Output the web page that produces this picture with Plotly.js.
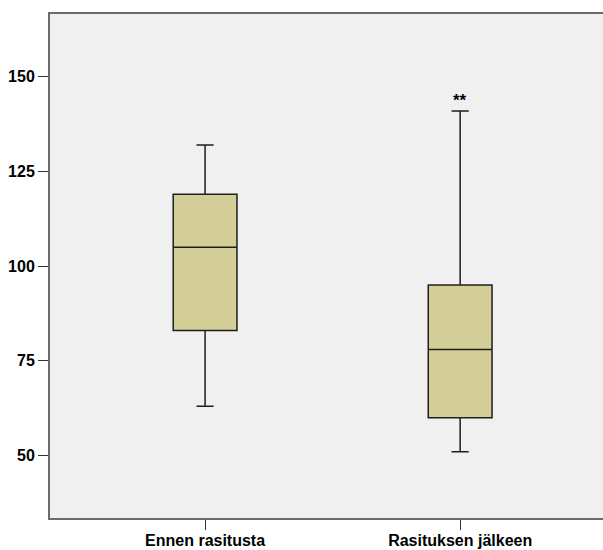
<!DOCTYPE html>
<html>
<head>
<meta charset="utf-8">
<script src="https://cdn.plot.ly/plotly-3.0.1.min.js"></script>
<style>html,body{margin:0;padding:0;background:#fff;}#chart{width:603px;height:550px;}</style>
</head>
<body>
<div id="chart"></div>
<script>
const categories = ["Ennen rasitusta", "Rasituksen jälkeen"];
const lowerWhisker = [63, 51];
const q1 = [83, 60];
const median = [105, 78];
const q3 = [119, 95];
const upperWhisker = [132, 141];
const markerText = ["", "**"];
const yTicks = [50, 75, 100, 125, 150];

const trace = {
  type: "box",
  x: categories,
  q1: q1,
  median: median,
  q3: q3,
  lowerfence: lowerWhisker,
  upperfence: upperWhisker,
  width: 0.25,
  whiskerwidth: 0.27,
  fillcolor: "#d3ce98",
  line: {color: "#1e1e1e", width: 1.5},
  boxpoints: false,
  hoverinfo: "skip",
  showlegend: false
};

const annotations = categories.map((c, i) => ({
  x: c, y: upperWhisker[i], xref: "x", yref: "y",
  text: "<b>" + markerText[i] + "</b>", showarrow: false, yanchor: "bottom", yshift: -1,
  font: {family: "Liberation Sans, Arial, sans-serif", size: 17, color: "#000"},
  raw: markerText[i]
})).filter(a => a.raw).map(a => { delete a.raw; return a; });

const layout = {
  width: 603, height: 550,
  margin: {l: 50, r: 0, t: 14, b: 32},
  paper_bgcolor: "#ffffff",
  plot_bgcolor: "#f0f0f0",
  font: {family: "Liberation Sans, Arial, sans-serif", size: 16, color: "#000", weight: "bold"},
  xaxis: {
    type: "category",
    range: [-0.608, 1.56],
    showline: true, linecolor: "#6b6b6b", linewidth: 2, mirror: true,
    ticks: "outside", ticklen: 10, tickcolor: "#333", tickwidth: 1,
    ticklabelstandoff: -3,
    showgrid: false, zeroline: false,
    tickfont: {size: 16, weight: "bold"}
  },
  yaxis: {
    range: [33.5, 166.6],
    tickvals: yTicks,
    showline: true, linecolor: "#6b6b6b", linewidth: 2,
    ticks: "outside", ticklen: 10, tickcolor: "#333", tickwidth: 1,
    showgrid: false, zeroline: false,
    tickfont: {size: 16, weight: "bold"}
  },
  annotations: annotations
};

Plotly.newPlot("chart", [trace], layout, {displayModeBar: false, staticPlot: true});
</script>
</body>
</html>
